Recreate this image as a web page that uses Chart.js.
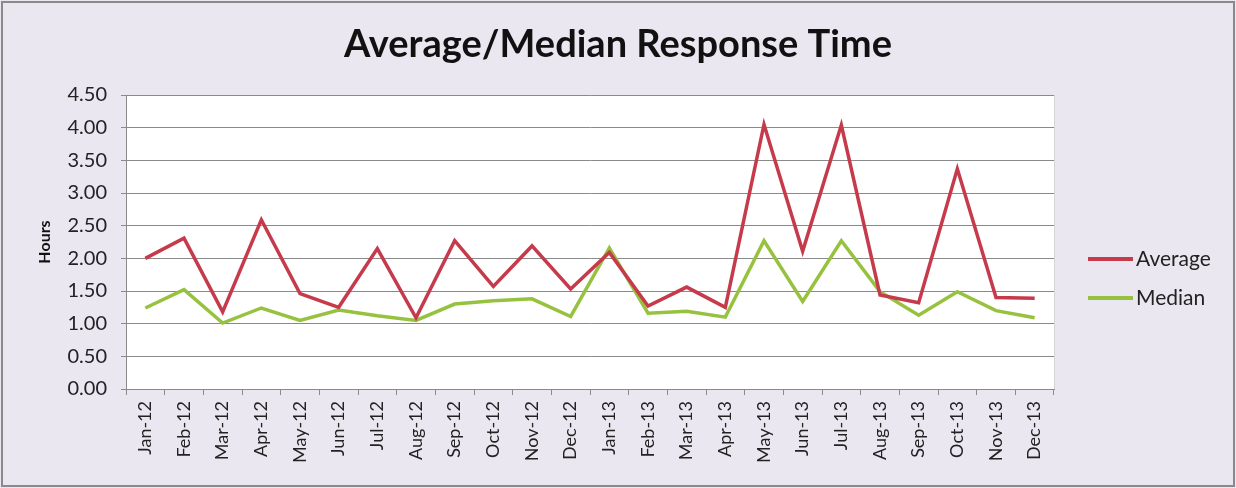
<!DOCTYPE html>
<html>
<head>
<meta charset="utf-8">
<script src="https://cdn.jsdelivr.net/npm/chart.js@4/dist/chart.umd.min.js"></script>
<style>
  html, body { margin: 0; padding: 0; background: #ebe7f1; }
  #wrap { width: 1236px; height: 488px; position: relative; }
</style>
</head>
<body>
<div id="wrap"><canvas id="mainChart" width="1236" height="488"></canvas></div>
<script>
// Chart data
const months = ['Jan-12', 'Feb-12', 'Mar-12', 'Apr-12', 'May-12', 'Jun-12', 'Jul-12', 'Aug-12',
    'Sep-12', 'Oct-12', 'Nov-12', 'Dec-12', 'Jan-13', 'Feb-13', 'Mar-13', 'Apr-13',
    'May-13', 'Jun-13', 'Jul-13', 'Aug-13', 'Sep-13', 'Oct-13', 'Nov-13', 'Dec-13'];
const averageHours = [2.00, 2.31, 1.18, 2.59, 1.46, 1.25, 2.15, 1.09, 2.27, 1.57, 2.19, 1.53,
    2.09, 1.27, 1.56, 1.25, 4.05, 2.11, 4.04, 1.44, 1.32, 3.37, 1.40, 1.39];
const medianHours = [1.24, 1.52, 1.01, 1.24, 1.05, 1.21, 1.12, 1.05, 1.30, 1.35, 1.38, 1.11,
    2.16, 1.16, 1.19, 1.10, 2.27, 1.34, 2.27, 1.49, 1.13, 1.49, 1.20, 1.09];
const yTicks = [0, 0.5, 1, 1.5, 2, 2.5, 3, 3.5, 4, 4.5];
const chartTitle = 'Average/Median Response Time';

const FONT = 'Lato, "Open Sans", sans-serif';

// Background, outer frame and white plot area
const backdrop = {
    id: 'backdrop',
    beforeDraw(chart) {
        const ctx = chart.ctx;
        const a = chart.chartArea;
        ctx.save();
        ctx.fillStyle = '#ebe7f1';
        ctx.fillRect(0, 0, chart.width, chart.height);
        ctx.strokeStyle = '#8a8a8a';
        ctx.lineWidth = 2;
        ctx.strokeRect(2, 2, chart.width - 4, chart.height - 4);
        ctx.fillStyle = '#ffffff';
        ctx.fillRect(a.left, a.top, a.right - a.left, a.bottom - a.top);
        ctx.strokeStyle = '#d4d4d4';
        ctx.lineWidth = 1;
        ctx.strokeRect(a.left + 0.5, a.top + 0.5, a.right - a.left, a.bottom - a.top);
        ctx.restore();
    }
};

// Title centred on the whole picture (the built-in one centres between paddings)
const pageTitle = {
    id: 'pageTitle',
    afterDraw(chart) {
        const ctx = chart.ctx;
        ctx.save();
        ctx.font = 'bold 38px ' + FONT;
        ctx.fillStyle = '#111';
        ctx.textAlign = 'center';
        ctx.textBaseline = 'middle';
        ctx.fillText(chartTitle, chart.width / 2, 45);
        ctx.restore();
    }
};

// Excel-style legend: short line + label, centred a little below the middle
const sideLegend = {
    id: 'sideLegend',
    afterDraw(chart) {
        const ctx = chart.ctx;
        const x0 = chart.chartArea.right + 34;
        const y0 = chart.height / 2 + 15;
        ctx.save();
        ctx.font = '21px ' + FONT;
        ctx.textBaseline = 'middle';
        chart.data.datasets.forEach((ds, i) => {
            const y = y0 + i * 39;
            ctx.strokeStyle = ds.borderColor;
            ctx.lineWidth = 4;
            ctx.beginPath();
            ctx.moveTo(x0, y);
            ctx.lineTo(x0 + 45, y);
            ctx.stroke();
            ctx.fillStyle = '#222';
            ctx.fillText(ds.label, x0 + 48, y);
        });
        ctx.restore();
    }
};

const ctx = document.getElementById('mainChart').getContext('2d');
window.mainChart = new Chart(ctx, {
    type: 'line',
    data: {
        labels: months,
        datasets: [{
            label: 'Average',
            data: averageHours,
            borderColor: '#c63b4c',
            backgroundColor: '#c63b4c',
            borderWidth: 3.5,
            pointRadius: 0,
            tension: 0
        }, {
            label: 'Median',
            data: medianHours,
            borderColor: '#97c23f',
            backgroundColor: '#97c23f',
            borderWidth: 3.5,
            pointRadius: 0,
            tension: 0
        }]
    },
    options: {
        responsive: false,
        animation: false,
        layout: { padding: { left: 35, right: 182, top: 95, bottom: 14 } },
        plugins: {
            title: { display: false },
            legend: { display: false },
            tooltip: { enabled: false }
        },
        scales: {
            x: {
                offset: true,
                grid: {
                    offset: true,
                    drawOnChartArea: false,
                    drawTicks: true,
                    tickLength: 6,
                    color: '#8a8a8a'
                },
                border: { color: '#8a8a8a', width: 1 },
                ticks: {
                    color: '#222',
                    font: { family: FONT, size: 18 },
                    maxRotation: 90,
                    minRotation: 90,
                    autoSkip: false,
                    padding: 6
                },
                afterFit(scale) { scale.height = 85; }
            },
            y: {
                min: 0,
                max: 4.5,
                afterBuildTicks(scale) {
                    scale.ticks = yTicks.map(v => ({ value: v }));
                },
                grid: {
                    color: '#8a8a8a',
                    tickLength: 5
                },
                border: { color: '#8a8a8a', width: 1 },
                ticks: {
                    color: '#222',
                    font: { family: FONT, size: 20 },
                    padding: 14,
                    callback: v => Number(v).toFixed(2)
                },
                title: {
                    display: true,
                    text: 'Hours',
                    color: '#111',
                    font: { family: FONT, size: 16, weight: 'bold' },
                    padding: { top: 0, bottom: 4 }
                },
                afterFit(scale) { scale.width = 91; }
            }
        }
    },
    plugins: [backdrop, pageTitle, sideLegend]
});
</script>
</body>
</html>
